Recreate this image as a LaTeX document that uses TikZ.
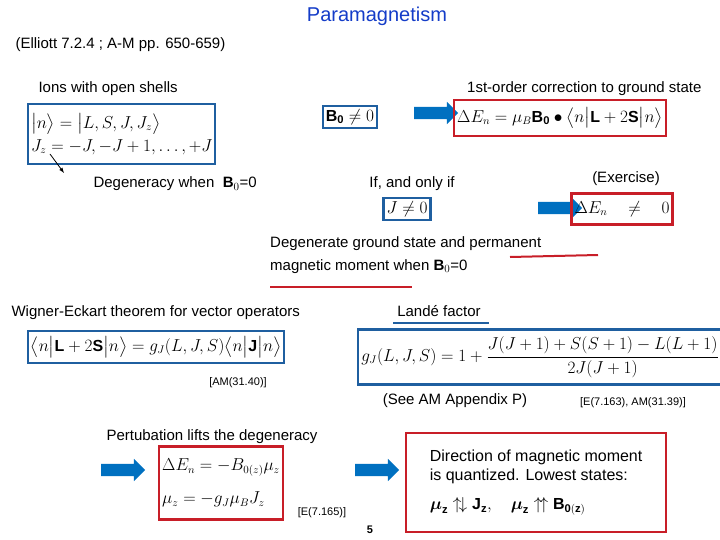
\documentclass[tikz,border=0pt]{standalone}
\usepackage{fontspec}
\usepackage{amsmath}
\setmainfont{Liberation Sans}
\usetikzlibrary{shapes.arrows,positioning}
\definecolor{boxblue}{RGB}{31,95,160}
\definecolor{boxred}{RGB}{200,30,40}
\definecolor{arrowblue}{RGB}{0,112,192}
\definecolor{titleblue}{RGB}{20,60,200}

\tikzset{
  bluebox/.style={draw=boxblue, line width=2.2pt, inner sep=3pt, font=\fontsize{16}{19}\selectfont},
  redbox/.style={draw=boxred, line width=2.2pt, inner sep=3pt, font=\fontsize{16}{19}\selectfont},
  txt/.style={font=\fontsize{15}{17}\selectfont},
  refnote/.style={font=\fontsize{11}{13}\selectfont},
  fatarrow/.style={single arrow, fill=arrowblue, minimum height=44pt, inner xsep=0pt, inner ysep=6pt,
    single arrow head extend=5pt}
}

\begin{document}
\begin{tikzpicture}[x=1pt, y=-1pt]
    \useasboundingbox (0,0) rectangle (720,540);

    \node (title) [font=\fontsize{20}{22}\selectfont, text=titleblue] at (377,16) {Paramagnetism};
    \node (ref) [txt, anchor=west] at (12,45) {(Elliott 7.2.4 ; A-M pp. 650-659)};

    % top left
    \node (ions) [txt, anchor=west] at (35,89) {Ions with open shells};
    \node (states) [bluebox, anchor=north west, align=left, minimum width=173pt, minimum height=60pt] at (27,103)
      {$\bigl|n\bigr\rangle=\bigl|L,S,J,J_z\bigr\rangle$\\[4pt] $J_z=-J,-J+1,\ldots,+J$};
    \node (degen) [txt, anchor=west] at (90,184) {Degeneracy when \ \textbf{B}$_0$=0};
    \coordinate (jz) at (50,154);
    \coordinate (jzend) at (64,173);
    \draw [-latex, thick] (jz) -- (jzend);

    % top right
    \node (first) [txt, anchor=east] at (705,89) {1st-order correction to ground state};
    \node (bnz) [bluebox] at (350,117) {$\mathbf{B_0}\neq 0$};
    \node (a1) [fatarrow] at (433,113) {};
    \node (corr) [redbox, minimum width=196pt, minimum height=36pt] at (560,118)
      {$\Delta E_n=\mu_B\mathbf{B_0}\bullet\bigl\langle n\bigl|\mathbf{L}+2\mathbf{S}\bigr|n\bigr\rangle$};

    \node (iff) [txt] at (412,184) {If, and only if};
    \node (jnz) [bluebox] at (407,209) {$J\neq 0$};
    \node (exer) [txt] at (626,179) {(Exercise)};
    \node (a2) [fatarrow] at (557,208) {};
    \node (enz) [redbox, minimum width=85pt, minimum height=31pt] at (622,209) {$\Delta E_n\quad\neq\quad 0$};

    \node (perm) [txt, anchor=north west, align=left, inner sep=0pt] at (270,236)
      {Degenerate ground state and permanent\\[6pt]magnetic moment when \textbf{B}$_0$=0};
    \coordinate (p1) at (510,257);
    \coordinate (p2) at (598,255);
    \coordinate (m1) at (270,287);
    \coordinate (m2) at (412,287);
    \draw [line width=2pt, boxred] (p1) -- (p2);
    \draw [line width=2pt, boxred] (m1) -- (m2);

    % middle
    \node (wig) [txt, anchor=west] at (8,313) {Wigner-Eckart theorem for vector operators};
    \node (we) [bluebox, minimum width=248pt, minimum height=32pt] at (156,347)
      {$\bigl\langle n\bigl|\mathbf{L}+2\mathbf{S}\bigr|n\bigr\rangle=g_J(L,J,S)\bigl\langle n\bigl|\mathbf{J}\bigr|n\bigr\rangle$};
    \node (am1) [refnote] at (238,383) {[AM(31.40)]};
    \node (lande) [txt] at (439,311) {Landé factor};
    \coordinate (l1) at (393,323);
    \coordinate (l2) at (489,323);
    \draw [line width=2pt, boxblue] (l1) -- (l2);
    \node (gj) [bluebox, minimum width=335pt, minimum height=55pt] at (540,357)
      {$g_J(L,J,S)=1+\dfrac{J(J+1)+S(S+1)-L(L+1)}{2J(J+1)}$};
    \node (app) [txt] at (455,401) {(See AM Appendix P)};
    \node (am2) [refnote] at (633,403) {[E(7.163), AM(31.39)]};

    % bottom
    \node (pert) [txt] at (212,437) {Pertubation lifts the degeneracy};
    \node (a3) [fatarrow] at (120,470) {};
    \node (lift) [redbox, align=left, minimum width=117pt, minimum height=73pt] at (221,483)
      {$\Delta E_n=-B_{0(z)}\mu_z$\\[14pt]$\mu_z=-g_J\mu_BJ_z$};
    \node (e165) [refnote] at (322,513) {[E(7.165)]};
    \node (a4) [fatarrow] at (374,470) {};
    \node (dir) [redbox, anchor=north west, align=left, minimum width=260pt, minimum height=99pt,
      inner sep=6pt] at (405,432)
      {Direction of magnetic moment\\is quantized. Lowest states:\\[10pt]
       $\boldsymbol{\mu}_\mathbf{z}\uparrow\!\downarrow\mathbf{J_z},\quad\boldsymbol{\mu}_\mathbf{z}\uparrow\!\uparrow\mathbf{B_{0(z)}}$};
    \node (page) [font=\bfseries\fontsize{11}{13}\selectfont] at (370,530) {5};
\end{tikzpicture}
\end{document}
